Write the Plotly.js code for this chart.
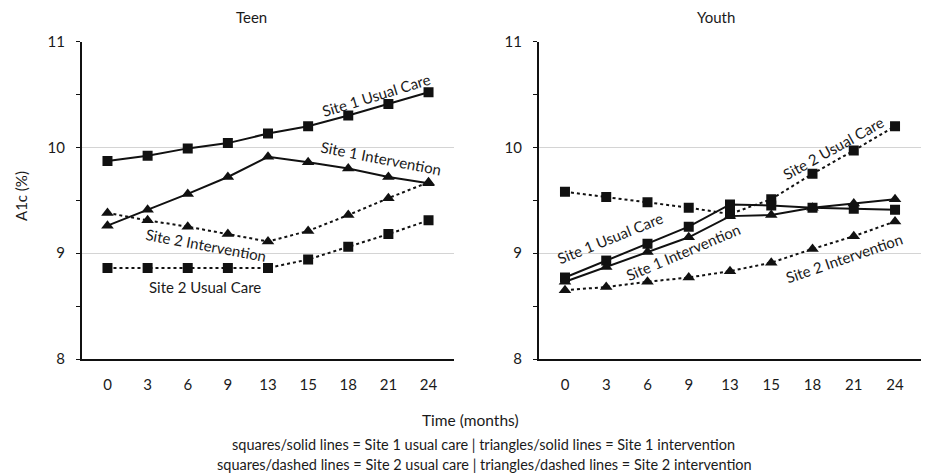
<!DOCTYPE html>
<html>
<head>
<meta charset="utf-8">
<script src="https://cdn.plot.ly/plotly-3.0.1.min.js"></script>
<style>html,body{margin:0;padding:0;background:#fff;}#chart{width:925px;height:476px;}</style>
</head>
<body>
<div id="chart"></div>
<script>
// ---- data ----
const months = ["0", "3", "6", "9", "13", "15", "18", "21", "24"];

// Teen
const teenSite1Usual = [9.87, 9.92, 9.99, 10.04, 10.13, 10.20, 10.30, 10.41, 10.52];
const teenSite1Interv = [9.26, 9.41, 9.56, 9.72, 9.91, 9.86, 9.80, 9.72, 9.66];
const teenSite2Usual = [8.86, 8.86, 8.86, 8.86, 8.86, 8.94, 9.06, 9.18, 9.31];
const teenSite2Interv = [9.38, 9.31, 9.25, 9.18, 9.11, 9.21, 9.36, 9.52, 9.67];

// Youth
const youthSite1Usual = [8.77, 8.93, 9.09, 9.25, 9.46, 9.45, 9.43, 9.42, 9.41];
const youthSite1Interv = [8.73, 8.87, 9.01, 9.15, 9.35, 9.36, 9.43, 9.47, 9.51];
const youthSite2Usual = [9.58, 9.53, 9.48, 9.43, 9.37, 9.51, 9.75, 9.97, 10.20];
const youthSite2Interv = [8.65, 8.68, 8.73, 8.77, 8.83, 8.91, 9.04, 9.16, 9.30];

const yTickVals = [8, 9, 10, 11];
const yTickText = ["8", "9", "10", "11"];

const panelTitles = ["Teen", "Youth"];
const yTitle = "A1c (%)";
const xTitle = "Time (months)";
const footLines = [
  "squares/solid lines = Site 1 usual care | triangles/solid lines = Site 1 intervention",
  "squares/dashed lines = Site 2 usual care | triangles/dashed lines = Site 2 intervention"
];
const seriesLabels = ["Site 1 Usual Care", "Site 1 Intervention", "Site 2 Usual Care", "Site 2 Intervention"];

// ---- build ----
const W = 925, H = 476;
const px = v => v / W;
const py = v => 1 - v / H;
const FONT = "Lato, 'Open Sans', sans-serif";
const INK = "#111";
const TXT = "#1a1a1a";

function mk(y, xa, ya, dash, sym, size) {
  return {
    x: months, y: y, xaxis: xa, yaxis: ya, type: "scatter", mode: "lines+markers",
    line: {color: INK, width: 2, dash: dash},
    marker: {color: INK, symbol: sym, size: size},
    showlegend: false, hoverinfo: "skip"
  };
}

const traces = [
  mk(teenSite1Usual, "x", "y", "solid", "square", 10),
  mk(teenSite1Interv, "x", "y", "solid", "triangle-up", 11),
  mk(teenSite2Usual, "x", "y", "dot", "square", 10),
  mk(teenSite2Interv, "x", "y", "dot", "triangle-up", 11),
  mk(youthSite2Usual, "x2", "y2", "dot", "square", 10),
  mk(youthSite2Interv, "x2", "y2", "dot", "triangle-up", 11),
  mk(youthSite1Usual, "x2", "y2", "solid", "square", 10),
  mk(youthSite1Interv, "x2", "y2", "solid", "triangle-up", 11)
];

const yDomain = [py(359), py(41.5)];

function xAxis(domain) {
  return {
    domain: domain, type: "category", showgrid: false, zeroline: false,
    showline: true, linecolor: INK, linewidth: 2, ticks: "",
    tickfont: {family: FONT, size: 15, color: TXT},
    ticklabelstandoff: 11, fixedrange: true
  };
}
function yAxis(anchor) {
  return {
    anchor: anchor, domain: yDomain, range: [8, 11], tickvals: yTickVals, ticktext: yTickText,
    showgrid: true, gridcolor: "#d4d4d4", gridwidth: 1, zeroline: false,
    showline: true, linecolor: INK, linewidth: 2,
    ticks: "outside", ticklen: 4, tickwidth: 1, tickcolor: INK,
    minor: {tickvals: [8.5, 9.5, 10.5], ticks: "outside", ticklen: 4, tickcolor: INK, showgrid: false},
    tickfont: {family: FONT, size: 15, color: TXT},
    ticklabelstandoff: 8, fixedrange: true
  };
}

function lab(text, x, y, angle, size) {
  return {text: text, xref: "paper", yref: "paper", x: px(x), y: py(y),
    xanchor: "center", yanchor: "middle", showarrow: false, textangle: angle,
    font: {family: FONT, size: size || 15, color: TXT}};
}

const annotations = [
  lab(panelTitles[0], 251, 17, 0),
  lab(panelTitles[1], 716, 17, 0),
  lab(yTitle, 21, 196, -90),
  lab(xTitle, 470, 420, 0, 15.5),
  lab(footLines[0], 483, 444, 0, 14.5),
  lab(footLines[1], 484, 464, 0, 14.5),
  // Teen labels
  lab(seriesLabels[0], 376, 95, -17),
  lab(seriesLabels[1], 381, 158, 11),
  lab(seriesLabels[3], 206, 245, 10.5),
  lab(seriesLabels[2], 205, 287, 0),
  // Youth labels
  lab(seriesLabels[0], 610, 238, -22),
  lab(seriesLabels[1], 683, 252, -23),
  lab(seriesLabels[2], 833, 148, -29),
  lab(seriesLabels[3], 844, 258, -19)
];

const layout = {
  width: W, height: H,
  margin: {l: 0, r: 0, t: 0, b: 0},
  paper_bgcolor: "#fff", plot_bgcolor: "#fff",
  font: {family: FONT, color: TXT},
  xaxis: Object.assign(xAxis([px(82), px(454)]), {anchor: "y"}),
  yaxis: yAxis("x"),
  xaxis2: Object.assign(xAxis([px(539), px(921)]), {anchor: "y2"}),
  yaxis2: yAxis("x2"),
  annotations: annotations,
  showlegend: false
};

Plotly.newPlot("chart", traces, layout, {displayModeBar: false, staticPlot: true});
</script>
</body>
</html>
